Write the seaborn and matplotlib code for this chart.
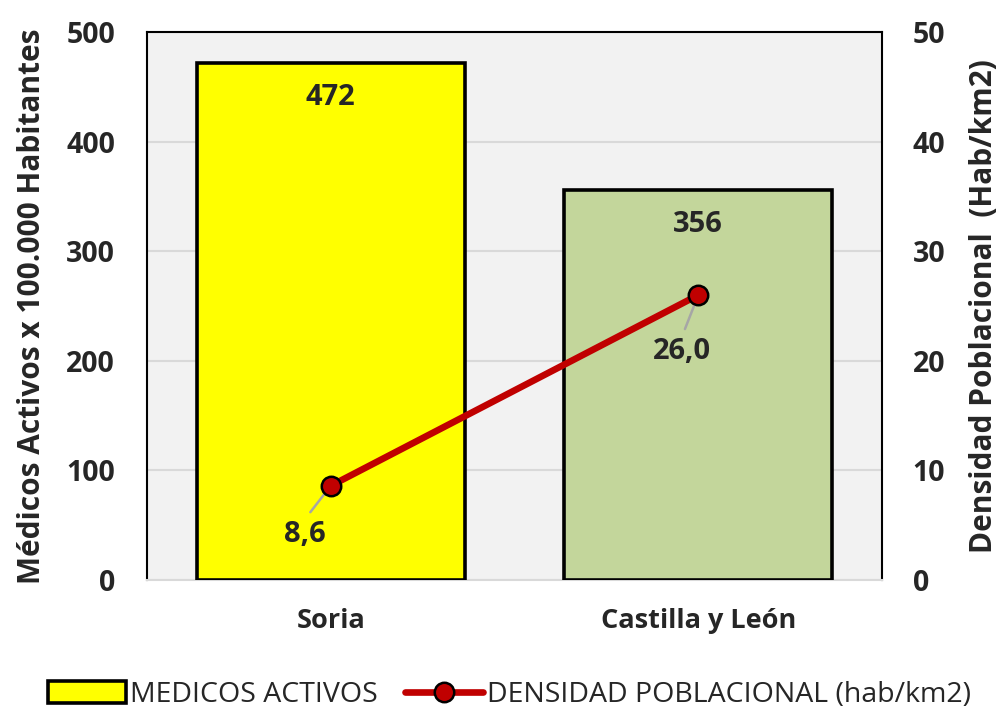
import numpy as np
import pandas as pd
import matplotlib.pyplot as plt
import seaborn as sns
from matplotlib.patches import Patch
from matplotlib.lines import Line2D

categories = ["Soria", "Castilla y León"]
medicos = [472, 356]
densidad = [8.6, 26.0]
densidad_labels = ["8,6", "26,0"]
bar_colors = ["#FFFF00", "#C3D69B"]


def plot_chart():
    sns.set_theme(style="white")
    plt.rcParams['font.family'] = ['Open Sans', 'DejaVu Sans']

    fig = plt.figure(figsize=(10.03, 7.10), dpi=100)
    ax = fig.add_axes([0.1466, 0.1831, 0.7328, 0.7718])
    ax.set_facecolor("#F2F2F2")

    df = pd.DataFrame({"zona": categories, "medicos": medicos})
    sns.barplot(data=df, x="zona", y="medicos", hue="zona", palette=bar_colors,
                saturation=1, legend=False, width=0.73, edgecolor="black",
                linewidth=2.6, ax=ax, zorder=3)

    ax.set_ylim(0, 500)
    ax.set_xlim(-0.5, 1.5)
    ax.set_yticks(range(0, 501, 100))
    ax.yaxis.grid(True, color="#D9D9D9", linewidth=1.5, zorder=0)
    ax.set_axisbelow(True)
    ax.set_xlabel("")
    ax.set_ylabel("Médicos Activos x 100.000 Habitantes", fontsize=21.5,
                  fontweight="bold", labelpad=14)
    ax.tick_params(axis="y", length=0, labelsize=20.5, pad=23)
    ax.tick_params(axis="x", length=0, labelsize=19.5, pad=20)
    for lab in ax.get_yticklabels() + ax.get_xticklabels():
        lab.set_fontweight("bold")
    ax.set_xticks([-0.5, 0.5, 1.5], minor=True)
    ax.tick_params(axis="x", which="minor", length=7, color="#D9D9D9", width=1.5)

    for side in ["left", "top", "right"]:
        ax.spines[side].set_color("black")
        ax.spines[side].set_linewidth(1.5)
    ax.spines["bottom"].set_color("#D9D9D9")
    ax.spines["bottom"].set_linewidth(1.5)

    # bar value labels
    for i, v in enumerate(medicos):
        ax.annotate(str(v), (i, v), xytext=(0, -25), textcoords="offset points",
                    ha="center", va="center", fontsize=21, fontweight="bold",
                    zorder=5)

    # secondary axis: densidad
    ax2 = ax.twinx()
    sns.lineplot(x=np.arange(len(categories)), y=densidad, ax=ax2,
                 color="#C00000", linewidth=4.8, marker="o", markersize=14,
                 markerfacecolor="#C00000", markeredgecolor="black",
                 markeredgewidth=1.8, zorder=4)
    ax2.set_ylim(0, 50)
    ax2.set_yticks(range(0, 51, 10))
    ax2.set_ylabel("Densidad Poblacional  (Hab/km2)", fontsize=21.5,
                   fontweight="bold", labelpad=17)
    ax2.tick_params(axis="y", length=0, labelsize=20.5, pad=22)
    for lab in ax2.get_yticklabels():
        lab.set_fontweight("bold")
    for s in ax2.spines.values():
        s.set_visible(False)

    # data labels with leader lines
    offsets = [(-19, -35), (-12, -41)]
    for i, (v, txt) in enumerate(zip(densidad, densidad_labels)):
        ax2.annotate(txt, (i, v), xytext=offsets[i], textcoords="offset points",
                     ha="center", va="center", fontsize=21, fontweight="bold",
                     zorder=3,
                     arrowprops=dict(arrowstyle="-", color="#A6A6A6", lw=1.8,
                                     relpos=(0.5, 1.0), shrinkA=4, shrinkB=0))

    handles = [
        Patch(facecolor=bar_colors[0], edgecolor="black", linewidth=2.6,
              label="MEDICOS ACTIVOS"),
        Line2D([0], [0], color="#C00000", linewidth=4.8, marker="o",
               markersize=14, markerfacecolor="#C00000",
               markeredgecolor="black", markeredgewidth=1.8,
               label="DENSIDAD POBLACIONAL (hab/km2)"),
    ]
    fig.legend(handles=handles, loc="lower center", bbox_to_anchor=(0.508, -0.035),
               ncol=2, frameon=False, fontsize=20.5, handlelength=2.75,
               handleheight=0.8, handletextpad=0.15, columnspacing=0.95)

    fig.savefig("out.png", dpi=100)


if __name__ == "__main__":
    plot_chart()
